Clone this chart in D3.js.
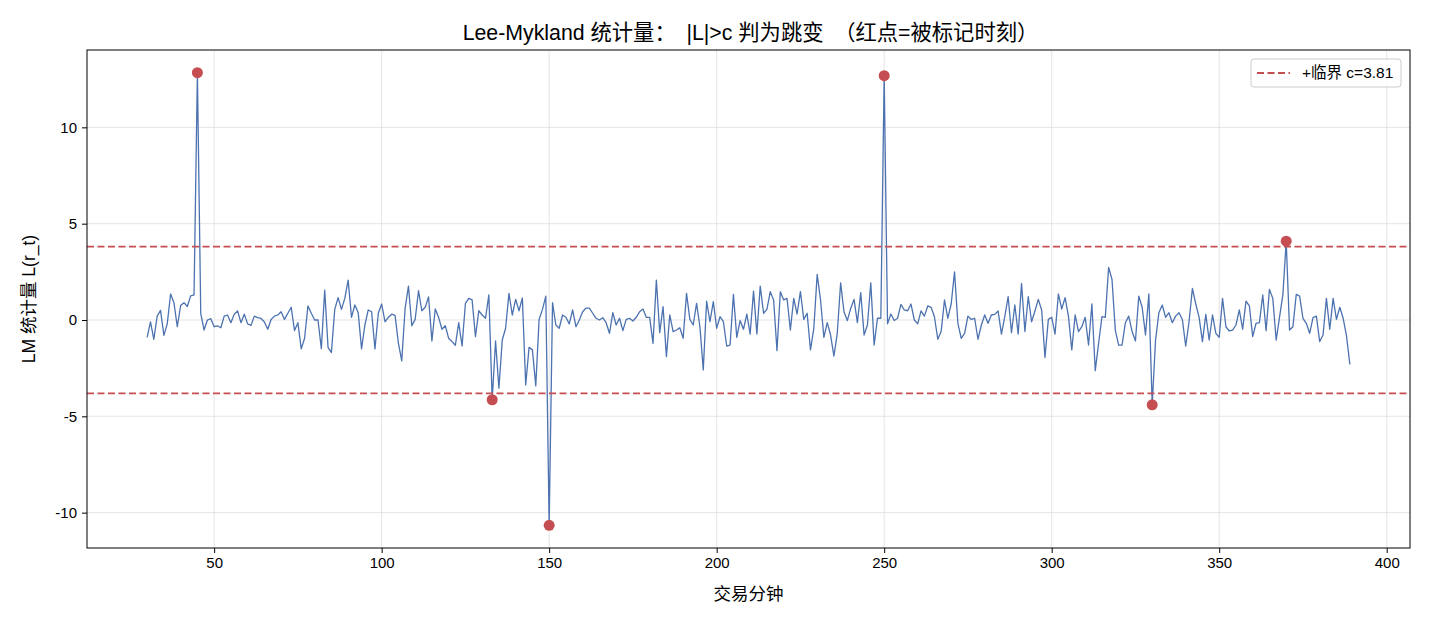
<!DOCTYPE html>
<html>
<head>
<meta charset="utf-8">
<script src="https://cdn.jsdelivr.net/npm/d3@7"></script>
<style>
  body { margin: 0; background: #fff; }
  svg text { font-family: "Liberation Sans", "Noto Sans CJK SC", sans-serif; }
</style>
</head>
<body>
<div id="chart"></div>
<script>
// Data: LM statistic per trading minute, starting at minute 30
var startMinute = 30;
var lmValues = [
  -0.9, -0.1, -1.0, 0.2, 0.5, -0.8, -0.2, 1.35, 0.9, -0.35, 0.75, 0.9, 0.7, 1.25, 1.3,
  12.84,
  0.35, -0.52, 0, 0.07, -0.35, -0.3, -0.4, 0.2, 0.26, -0.14, 0.3, 0.47, -0.14, 0.3, -0.2, -0.28,
  0.2, 0.12, 0.08, -0.1, -0.48, 0.03, 0.2, 0.26, 0.43, 0.03,
  0.35, 0.66, -0.55, -0.14, -1.5, -0.95, 0.73, 0.35, 0, 0, -1.49, 1.55, -1.42, -1.69, 0.55,
  1.16, 0.55, 1.12, 2.07, 0.14, 0.78, 0.38, -1.5, -0.26, 0.52, 0.43, -1.5, 0.35, 0.83, -0.09,
  0.14, 0.3, 0.24, -1.2, -2.12, 0.6, 1.76, -0.3, 0.03, 1.52, 0.48, 0.66, 1.2, -1.09, 0.57,
  0.14, -0.48, -0.3, -0.95, -1.12, -1.31, -0.14, -1.35, 0.86, 1.12, 1.04, -0.86, 0.48, 0.26, 0.09,
  1.3, -4.14,
  -1.09, -3.54, -1.04, -0.43, 1.38, 0.26, 1.07, 0.48, 1.14, -3.37, -1.42, -1.55, -3.42, 0.03, 0.55, 1.24,
  -10.66,
  0.9, -0.26, -0.43, 0.26, 0.14, -0.2, 0.52, -0.35, 0, 0.43, 0.62,
  0.62, 0.35, 0.09, 0, 0.12, -0.14, -0.69, 0.38, -0.26, 0.09, -0.55, 0.03, 0.09, -0.05, 0.14,
  0.43, 0.57, 0.14, 0.14, -1.21, 2.07, -0.66, 0.69, -1.9, 0.26, -0.6, -0.52, -0.4, -0.95, 1.38, 0.03,
  -0.26, 0.86, -0.35, -2.59, 0.98, -0.09, 0.95, -0.43, 0.17, -0.09, -1.35, -1.3, 1.33, -0.9, -0.03,
  -0.48, 0.31, -0.73, 1.5, -0.73, 1.76, 0.35, 0.55, 1.47, 1.04, -1.59, 1.47, 1.04, 1.12, -0.52,
  1.12, 0.31, 1.47, 0.03, 0.35, -1.55, -0.43, 2.37, 1.04, -0.9, -0.14, -0.78, -1.87, -0.69,
  1.93, 0.43, -0.03, 0.6, 1.07, -0.14, 1.42, -0.78, -0.26, 1.93, -1.3, 0.09, 0.09,
  12.68,
  -0.2, 0.31,
  -0.03, 0.09, 0.81, 0.52, 0.48, 0.83, 0, -0.2, 0.47, 0.2, 0.73, 0.66, 0.17, -1.0, -0.6,
  1.04, 0.09, 0.83, 2.5, -0.17, -0.95, -0.69, 0.2, 0.03, 0.09, -1.0, -0.26, 0.26, -0.17, 0.26,
  0.29, 0.47, -0.73, 0.17, 1.21, -0.66, 0.78, -0.73, 1.9, -0.6, 1.21, -0.09, 0.47, 1.07, 0.52,
  -1.95, 0.03, 0.14, -0.73, 1.35, 0.57, 1.16, 0.2, -1.55, 0.26, -0.6, -0.35, 0.14, -1.3, 0.83,
  -2.63, -1.21, 0.17, 0.14, 2.73, 2.1, -0.55, -1.3, -1.3, -0.14, 0.2, -0.6, -1.09, 1.24, 0.66, -0.78, 1.35,
  -4.4,
  -1.04, 0.38, 0.78, 0.14, 0.38, -0.14, 0.2, 0.38, 0.03, -1.35, -0.09, 1.64,
  0.83, 0.14, -1.12, 0.29, -1.04, 0.26, -0.69, -0.9, 1.12, -0.35, -0.57, -0.52, -0.26, 0.52,
  -0.48, 0.98, 0.73, -0.86, -0.17, -0.14, 1.3, -0.55, 1.59, 1.12, -1.04, 0.14, 1.3,
  4.09,
  -0.52, -0.35, 1.33, 1.24, 0.09, -0.17, -0.69, 0.12, 0.2, -1.12, -0.78, 1.12, -0.48, 1.12,
  0.03, 0.66, 0.09, -0.83, -2.3
];
var flaggedMinutes = [45, 133, 150, 250, 330, 370];
var critical = 3.81;
var xTicks = [50, 100, 150, 200, 250, 300, 350, 400];
var yTicks = [-10, -5, 0, 5, 10];
var titleText = "Lee-Mykland 统计量：|L|>c 判为跳变（红点=被标记时刻）";

var data = lmValues.map(function(v, i) { return [startMinute + i, v]; });
var flagged = data.filter(function(d) { return flaggedMinutes.indexOf(d[0]) >= 0; });

var w = 1430, h = 624;
var margin = { left: 87, right: 20, top: 50, bottom: 76 };

var xMin = d3.min(data, function(d) { return d[0]; });
var xMax = d3.max(data, function(d) { return d[0]; });
var yMin = d3.min(data, function(d) { return d[1]; });
var yMax = d3.max(data, function(d) { return d[1]; });
var xPad = (xMax - xMin) * 0.05, yPad = (yMax - yMin) * 0.05;

var xScale = d3.scaleLinear()
  .domain([xMin - xPad, xMax + xPad])
  .range([margin.left, w - margin.right]);
var yScale = d3.scaleLinear()
  .domain([yMin - yPad, yMax + yPad])
  .range([h - margin.bottom, margin.top]);

var svg = d3.select("#chart").append("svg")
  .attr("width", w)
  .attr("height", h);

// grid
svg.append("g").selectAll("line.gx")
  .data(xTicks).enter().append("line")
  .attr("x1", function(d) { return xScale(d); })
  .attr("x2", function(d) { return xScale(d); })
  .attr("y1", margin.top).attr("y2", h - margin.bottom)
  .attr("stroke", "#dedede").attr("stroke-width", 0.8);
svg.append("g").selectAll("line.gy")
  .data(yTicks).enter().append("line")
  .attr("y1", function(d) { return yScale(d); })
  .attr("y2", function(d) { return yScale(d); })
  .attr("x1", margin.left).attr("x2", w - margin.right)
  .attr("stroke", "#dedede").attr("stroke-width", 0.8);

// LM series
var line = d3.line()
  .x(function(d) { return xScale(d[0]); })
  .y(function(d) { return yScale(d[1]); });

svg.append("path")
  .datum(data)
  .attr("d", line)
  .attr("fill", "none")
  .attr("stroke", "#4c72b0")
  .attr("stroke-width", 1.3)
  .attr("stroke-linejoin", "round");

// critical lines
[critical, -critical].forEach(function(c) {
  svg.append("line")
    .attr("x1", margin.left).attr("x2", w - margin.right)
    .attr("y1", yScale(c)).attr("y2", yScale(c))
    .attr("stroke", "#c44e52")
    .attr("stroke-width", 1.8)
    .attr("stroke-dasharray", "7,3.5");
});

// flagged points
svg.selectAll("circle")
  .data(flagged).enter().append("circle")
  .attr("cx", function(d) { return xScale(d[0]); })
  .attr("cy", function(d) { return yScale(d[1]); })
  .attr("r", 5.5)
  .attr("fill", "#c44e52");

// axes
var xAxis = d3.axisBottom(xScale).tickValues(xTicks).tickSizeOuter(0).tickSize(5).tickPadding(4);
var yAxis = d3.axisLeft(yScale).tickValues(yTicks).tickSizeOuter(0).tickSize(5).tickPadding(5)
  .tickFormat(function(d) { return String(d); });

var gx = svg.append("g")
  .attr("transform", "translate(0," + (h - margin.bottom) + ")")
  .call(xAxis);
var gy = svg.append("g")
  .attr("transform", "translate(" + margin.left + ",0)")
  .call(yAxis);
[gx, gy].forEach(function(g) {
  g.select(".domain").remove();
  g.selectAll("text").attr("font-size", 15).attr("fill", "#000")
    .attr("font-family", "Liberation Sans, sans-serif");
  g.selectAll("line").attr("stroke", "#000").attr("stroke-width", 1);
});

// frame
svg.append("rect")
  .attr("x", margin.left).attr("y", margin.top)
  .attr("width", w - margin.left - margin.right)
  .attr("height", h - margin.top - margin.bottom)
  .attr("fill", "none").attr("stroke", "#000").attr("stroke-width", 1);

// title: restore the full-width spacing of the CJK punctuation
var titleSize = 21.3, halfEm = titleSize / 2;
var title = svg.append("text")
  .attr("x", 750.5).attr("y", 40)
  .attr("text-anchor", "middle").attr("font-size", titleSize);
var prev = "";
titleText.split(/([：（）])/).forEach(function(part) {
  if (!part) return;
  var t = title.append("tspan").text(part);
  if (part === "（" || prev === "：") t.attr("dx", halfEm);
  prev = part;
});

svg.append("text")
  .attr("x", (margin.left + w - margin.right) / 2).attr("y", 600)
  .attr("text-anchor", "middle").attr("font-size", 17.5)
  .text("交易分钟");

svg.append("text")
  .attr("transform", "translate(35," + ((margin.top + h - margin.bottom) / 2) + ") rotate(-90)")
  .attr("text-anchor", "middle").attr("font-size", 17.5)
  .text("LM 统计量 L(r_t)");

// legend
var lg = svg.append("g").attr("transform", "translate(1251,59)");
lg.append("rect")
  .attr("width", 150).attr("height", 28).attr("rx", 3)
  .attr("fill", "#fff").attr("fill-opacity", 0.8)
  .attr("stroke", "#cccccc").attr("stroke-width", 1);
lg.append("line")
  .attr("x1", 6).attr("x2", 39).attr("y1", 14).attr("y2", 14)
  .attr("stroke", "#c44e52").attr("stroke-width", 1.8)
  .attr("stroke-dasharray", "7,3.5");
lg.append("text")
  .attr("x", 51).attr("y", 19).attr("font-size", 15.5)
  .text("+临界 c=" + critical.toFixed(2));
</script>
</body>
</html>
